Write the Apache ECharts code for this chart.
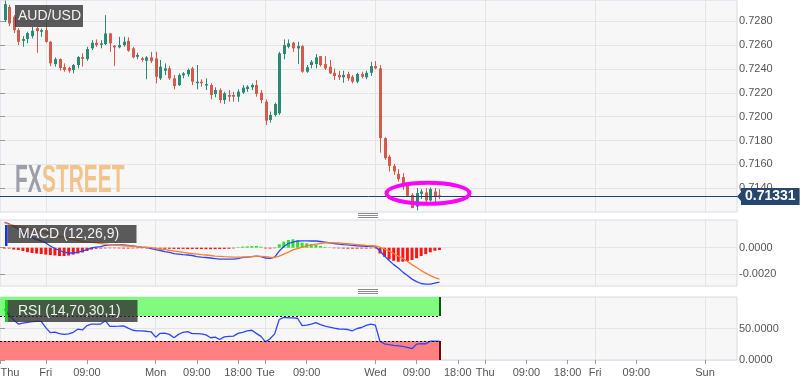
<!DOCTYPE html>
<html><head><meta charset="utf-8">
<script src="https://cdn.jsdelivr.net/npm/echarts@6/dist/echarts.min.js"></script>
<style>html,body{margin:0;padding:0;background:#fff}#c{width:808px;height:387px}</style>
</head><body><div id="c"></div>
<script>
const symbolName = 'AUD/USD';
const macdName = 'MACD (12,26,9)';
const rsiName = 'RSI (14,70,30,1)';
const firstSlot = 1;           // hour slot of the first candle
const totalSlots = 161;        // hour slots shown on the x axis
const opens = [0.72811,0.72922,0.72839,0.72727,0.72637,0.72652,0.72677,0.72744,0.72713,0.72727,
0.72629,0.72442,0.72484,0.72417,0.72409,0.72392,0.72434,0.72501,0.72484,0.72574,
0.72621,0.72604,0.72610,0.72699,0.72596,0.72582,0.72601,0.72637,0.72574,0.72503,
0.72490,0.72470,0.72498,0.72490,0.72322,0.72386,0.72406,0.72322,0.72265,0.72348,
0.72356,0.72406,0.72281,0.72294,0.72262,0.72266,0.72190,0.72224,0.72140,0.72182,
0.72182,0.72168,0.72202,0.72233,0.72247,0.72266,0.72202,0.72126,0.71973,0.72015,
0.72029,0.72526,0.72587,0.72621,0.72574,0.72593,0.72378,0.72434,0.72442,0.72509,
0.72442,0.72420,0.72369,0.72350,0.72331,0.72358,0.72336,0.72294,0.72358,0.72331,
0.72369,0.72425,0.72406,0.71820,0.71665,0.71587,0.71520,0.71493,0.71428,0.71344,
0.71246,0.71353,0.71364,0.71297,0.71372,0.71340];
const closes = [0.72945,0.72783,0.72727,0.72629,0.72652,0.72702,0.72721,0.72719,0.72727,0.72629,
0.72448,0.72484,0.72409,0.72392,0.72386,0.72434,0.72501,0.72487,0.72568,0.72621,
0.72601,0.72616,0.72699,0.72616,0.72582,0.72601,0.72629,0.72554,0.72498,0.72518,
0.72476,0.72498,0.72467,0.72336,0.72420,0.72406,0.72322,0.72258,0.72350,0.72364,
0.72392,0.72294,0.72294,0.72281,0.72275,0.72182,0.72224,0.72140,0.72197,0.72168,
0.72168,0.72210,0.72244,0.72252,0.72266,0.72191,0.72140,0.71967,0.72015,0.72107,
0.72532,0.72601,0.72616,0.72574,0.72593,0.72378,0.72415,0.72461,0.72498,0.72434,
0.72406,0.72364,0.72342,0.72331,0.72350,0.72322,0.72294,0.72358,0.72336,0.72369,
0.72425,0.72406,0.71820,0.71652,0.71587,0.71540,0.71476,0.71420,0.71336,0.71233,
0.71359,0.71372,0.71297,0.71392,0.71325,0.71331];
const lows = [0.72794,0.72760,0.72702,0.72601,0.72587,0.72616,0.72658,0.72537,0.72671,0.72621,
0.72425,0.72420,0.72386,0.72378,0.72369,0.72364,0.72406,0.72420,0.72470,0.72559,
0.72587,0.72574,0.72601,0.72545,0.72425,0.72574,0.72587,0.72545,0.72490,0.72482,
0.72461,0.72314,0.72451,0.72280,0.72308,0.72350,0.72308,0.72230,0.72258,0.72322,
0.72336,0.72265,0.72230,0.72252,0.72224,0.72146,0.72163,0.72113,0.72107,0.72126,
0.72126,0.72126,0.72191,0.72210,0.72224,0.72168,0.72113,0.71931,0.71950,0.72001,
0.72015,0.72482,0.72574,0.72545,0.72442,0.72369,0.72369,0.72406,0.72406,0.72420,
0.72392,0.72358,0.72308,0.72308,0.72285,0.72302,0.72280,0.72280,0.72322,0.72314,
0.72342,0.72398,0.71699,0.71638,0.71540,0.71512,0.71456,0.71386,0.71330,0.71233,
0.71213,0.71308,0.71280,0.71288,0.71280,0.71308];
const highs = [0.72975,0.72940,0.72853,0.72744,0.72677,0.72713,0.72755,0.72755,0.72741,0.72788,
0.72637,0.72498,0.72490,0.72448,0.72420,0.72442,0.72509,0.72532,0.72587,0.72643,
0.72649,0.72643,0.72853,0.72704,0.72601,0.72671,0.72671,0.72666,0.72587,0.72537,
0.72503,0.72509,0.72545,0.72545,0.72476,0.72448,0.72425,0.72350,0.72364,0.72375,
0.72406,0.72420,0.72434,0.72314,0.72322,0.72280,0.72247,0.72239,0.72210,0.72224,
0.72210,0.72230,0.72265,0.72265,0.72280,0.72308,0.72224,0.72146,0.72043,0.72118,
0.72545,0.72649,0.72649,0.72629,0.72629,0.72601,0.72434,0.72476,0.72526,0.72509,
0.72509,0.72476,0.72406,0.72386,0.72386,0.72378,0.72350,0.72369,0.72378,0.72386,
0.72461,0.72467,0.72434,0.71828,0.71680,0.71604,0.71560,0.71526,0.71437,0.71359,
0.71401,0.71392,0.71401,0.71406,0.71401,0.71392];
const macdLine = [0.00192,0.00180,0.00161,0.00142,0.00119,0.00097,0.00078,0.00062,0.00051,0.00036,
0.00013,-0.00006,-0.00021,-0.00033,-0.00040,-0.00040,-0.00033,-0.00025,-0.00014,-0.00002,
0.00005,0.00009,0.00017,0.00021,0.00021,0.00021,0.00021,0.00017,0.00013,0.00009,
0.00005,0.00002,-0.00006,-0.00014,-0.00021,-0.00029,-0.00036,-0.00044,-0.00048,-0.00052,
-0.00055,-0.00059,-0.00067,-0.00071,-0.00074,-0.00078,-0.00082,-0.00086,-0.00086,-0.00086,
-0.00086,-0.00082,-0.00074,-0.00071,-0.00067,-0.00063,-0.00067,-0.00078,-0.00081,-0.00071,
-0.00025,0.00009,0.00032,0.00043,0.00051,0.00052,0.00052,0.00051,0.00051,0.00047,
0.00042,0.00037,0.00032,0.00028,0.00024,0.00021,0.00017,0.00014,0.00013,0.00011,
0.00011,0.00008,-0.00025,-0.00063,-0.00097,-0.00128,-0.00154,-0.00185,-0.00211,-0.00238,
-0.00257,-0.00271,-0.00276,-0.00276,-0.00268,-0.00261];
const signalLine = [0.00192,0.00176,0.00169,0.00161,0.00154,0.00146,0.00138,0.00135,0.00127,0.00116,
0.00104,0.00093,0.00085,0.00078,0.00070,0.00062,0.00055,0.00047,0.00043,0.00040,
0.00036,0.00032,0.00028,0.00024,0.00021,0.00018,0.00015,0.00013,0.00011,0.00008,
0.00005,0.00003,0.00000,-0.00005,-0.00010,-0.00015,-0.00020,-0.00025,-0.00030,-0.00035,
-0.00040,-0.00044,-0.00048,-0.00052,-0.00055,-0.00059,-0.00063,-0.00065,-0.00068,-0.00069,
-0.00071,-0.00071,-0.00071,-0.00069,-0.00067,-0.00065,-0.00065,-0.00067,-0.00071,-0.00074,
-0.00063,-0.00048,-0.00033,-0.00017,-0.00006,0.00005,0.00013,0.00021,0.00027,0.00032,
0.00036,0.00037,0.00037,0.00036,0.00033,0.00030,0.00027,0.00024,0.00021,0.00017,
0.00015,0.00013,0.00005,-0.00010,-0.00025,-0.00044,-0.00063,-0.00082,-0.00105,-0.00128,
-0.00150,-0.00173,-0.00192,-0.00211,-0.00226,-0.00238];
const histogram = [-0.00006,-0.00006,-0.00014,-0.00017,-0.00025,-0.00033,-0.00040,-0.00044,-0.00048,-0.00052,
-0.00055,-0.00059,-0.00063,-0.00063,-0.00059,-0.00052,-0.00044,-0.00036,-0.00025,-0.00014,
-0.00008,-0.00006,-0.00005,-0.00004,-0.00004,-0.00005,-0.00006,-0.00006,-0.00005,-0.00004,
-0.00004,-0.00005,-0.00006,-0.00007,-0.00008,-0.00008,-0.00008,-0.00009,-0.00009,-0.00009,
-0.00010,-0.00010,-0.00010,-0.00010,-0.00011,-0.00011,-0.00011,-0.00010,-0.00009,-0.00008,
-0.00005,0.00004,0.00008,0.00010,0.00012,0.00013,0.00008,-0.00005,-0.00006,-0.00004,
0.00026,0.00046,0.00059,0.00064,0.00053,0.00038,0.00033,0.00028,0.00021,0.00013,
0.00006,0.00002,-0.00004,-0.00005,-0.00006,-0.00007,-0.00007,-0.00007,-0.00006,-0.00006,
-0.00005,-0.00005,-0.00043,-0.00068,-0.00088,-0.00099,-0.00106,-0.00106,-0.00101,-0.00093,
-0.00080,-0.00063,-0.00048,-0.00035,-0.00023,-0.00017];
const rsiValues = [80.3,71.7,63.5,57,58.6,59.8,61,61.4,61.4,51.3,
43.5,44.3,41.9,40.7,41.5,44,48.9,47.7,54.6,57,
57,57,62.4,53.3,53.3,53.7,54.2,50.5,47.2,46.1,
46.1,45.6,44.8,36.3,42.3,42.8,40.7,35.3,40.7,44,
45.1,41.9,41.9,41.5,39.9,35.3,36.3,32.6,36.6,37.5,
37.9,42.3,44,46.1,47.2,42.3,37.5,28.8,33.7,41.5,
64.3,67.6,67.1,66.8,66.3,54.6,55.4,57,59.4,56.2,
53.7,52.1,50.5,49.2,48.9,48.4,46.4,50,51.6,55,
57,55.4,29.8,25.7,24.4,23.3,22.5,21.7,19.9,17.9,
25.2,26.1,25.6,29.8,29.8,29.8];
const tickSlots = [0,10,19,34,43,52,58,67,82,91,100,106,115,124,130,139,154];
const tickLabels = ['Thu','Fri','09:00','Mon','09:00','18:00','Tue','09:00','Wed','09:00','18:00','Thu','09:00','18:00','Fri','09:00','Sun'];
const daySlots = [10,34,58,82,106,130,154];
const priceTicks = [0.714,0.716,0.718,0.720,0.722,0.724,0.726,0.728];
const macdTicks = [0,-0.002];
const rsiTicks = [0,50];
const rsiUpper = 70, rsiLower = 30;
const lastPrice = 0.71331;
const highlightSlot = 93.5, highlightPrice = 0.71357;

const FONT = '"Liberation Sans", Arial, sans-serif';
const UP = '#2b8a73', DOWN = '#d55a4c';
const GRIDC = '#e4e4e4';
const slots = opens.map((_, k) => firstSlot + k);
const lastSlot = slots[slots.length - 1];

const chart = echarts.init(document.getElementById('c'), null, {renderer: 'canvas', width: 808, height: 387});

function renderCandle(params, api) {
  const x = api.value(0), o = api.value(1), c = api.value(2), l = api.value(3), h = api.value(4);
  const po = api.coord([x, o]), pc = api.coord([x, c]), pl = api.coord([x, l]), ph = api.coord([x, h]);
  const cx = Math.round(po[0]);
  const col = c >= o ? UP : DOWN;
  const top = Math.min(po[1], pc[1]);
  const hgt = Math.max(Math.abs(po[1] - pc[1]), 1.2);
  return {type: 'group', children: [
    {type: 'line', shape: {x1: cx + 0.5, y1: ph[1], x2: cx + 0.5, y2: pl[1]}, style: {stroke: col, lineWidth: 1}},
    {type: 'rect', shape: {x: cx - 1, y: top, width: 3, height: hgt}, style: {fill: col}}
  ]};
}

const gridBase = {left: 0, width: 737, show: true, backgroundColor: '#f7f7f7', borderColor: '#d6d9e8', borderWidth: 1, containLabel: false, outerBoundsMode: 'none'};
function splitXAxis(gi) {
  return {type: 'value', gridIndex: gi, position: 'top', min: 0, max: totalSlots,
    axisLine: {show: false}, axisLabel: {show: false},
    axisTick: {show: false, customValues: daySlots},
    splitLine: {show: true, lineStyle: {color: GRIDC, width: 1}}};
}
function yAx(gi, min, max, ticks) {
  return {type: 'value', gridIndex: gi, position: 'right', min: min, max: max,
    axisLine: {show: false},
    axisTick: {show: true, length: 5, customValues: ticks, lineStyle: {color: '#9a9a9a'}},
    axisLabel: {show: true, customValues: ticks, margin: 2, color: '#555', fontSize: 11, fontFamily: FONT,
      formatter: v => (Math.abs(v) < 1e-12 ? 0 : v).toFixed(4)},
    splitLine: {show: true, lineStyle: {color: GRIDC, width: 1}}};
}

const option = {
  animation: false,
  backgroundColor: '#ffffff',
  textStyle: {fontFamily: FONT},
  grid: [
    Object.assign({}, gridBase, {top: 0, height: 212}),
    Object.assign({}, gridBase, {top: 220, height: 66}),
    Object.assign({}, gridBase, {top: 297, height: 63})
  ],
  xAxis: [
    splitXAxis(0), splitXAxis(1), splitXAxis(2),
    {type: 'value', gridIndex: 2, position: 'bottom', min: 0, max: totalSlots,
      axisLine: {show: false},
      axisTick: {show: true, length: 4, customValues: tickSlots, lineStyle: {color: '#9a9a9a'}},
      axisLabel: {show: true, customValues: tickSlots, margin: 7, color: '#555', fontSize: 11, fontFamily: FONT,
        formatter: v => { const k = tickSlots.indexOf(Math.round(v)); if (k < 0) return ''; return k === 0 ? '{first|' + tickLabels[k] + '}' : tickLabels[k]; },
        rich: {first: {padding: [0, 0, 0, 20], color: '#555', fontSize: 11, fontFamily: FONT}}},
      splitLine: {show: false}}
  ],
  yAxis: [
    yAx(0, 0.712, 0.7298, priceTicks),
    yAx(1, -0.0029, 0.0021, macdTicks),
    yAx(2, 0, 100, rsiTicks)
  ],
  series: [
    {type: 'custom', name: symbolName, xAxisIndex: 0, yAxisIndex: 0, clip: true,
      renderItem: renderCandle, encode: {x: 0, y: [1, 2, 3, 4]},
      data: slots.map((s, k) => [s, opens[k], closes[k], lows[k], highs[k]])},
    {type: 'line', name: 'last', xAxisIndex: 0, yAxisIndex: 0, showSymbol: false, silent: true, z: 4,
      lineStyle: {color: '#22416a', width: 0}, itemStyle: {color: '#22416a'},
      data: slots.map((s, k) => [s, closes[k]]),
      markLine: {silent: true, symbol: ['none', 'none'], animation: false,
        data: [[
          {coord: [0, lastPrice], lineStyle: {color: '#22416a', width: 1, type: 'solid', opacity: 1},
           label: {show: true, position: 'end', distance: 4, formatter: () => lastPrice.toFixed(5),
             backgroundColor: '#27466d', color: '#fff', fontWeight: 'bold', fontSize: 14, fontFamily: FONT, padding: [2, 4, 1, 4]}},
          {coord: [totalSlots, lastPrice]}
        ]]}},
    {type: 'bar', name: 'hist', xAxisIndex: 1, yAxisIndex: 1, barWidth: 3,
      data: slots.map((s, k) => [s, histogram[k]]),
      itemStyle: {color: p => p.value[1] >= 0 ? '#2ee02e' : '#ff1414'}},
    {type: 'line', name: 'MACD', xAxisIndex: 1, yAxisIndex: 1, showSymbol: false, z: 3,
      data: slots.map((s, k) => [s, macdLine[k]]), lineStyle: {color: '#2a46ff', width: 1.3}},
    {type: 'line', name: 'Signal', xAxisIndex: 1, yAxisIndex: 1, showSymbol: false, z: 3,
      data: slots.map((s, k) => [s, signalLine[k]]), lineStyle: {color: '#ff7f2a', width: 1.3}},
    {type: 'line', name: 'RSI', xAxisIndex: 2, yAxisIndex: 2, showSymbol: false, z: 3,
      data: slots.map((s, k) => [s, rsiValues[k]]), lineStyle: {color: '#2a46ff', width: 1.3},
      markArea: {silent: true, data: [
        [{xAxis: 0, yAxis: rsiUpper, itemStyle: {color: '#80fb80', opacity: 1}}, {xAxis: lastSlot, yAxis: 100}],
        [{xAxis: 0, yAxis: 0, itemStyle: {color: '#ff8080', opacity: 1}}, {xAxis: lastSlot, yAxis: rsiLower}]
      ]},
      markLine: {silent: true, symbol: ['none', 'none'], label: {show: false}, data: [
        [{coord: [0, rsiUpper], lineStyle: {color: '#000', width: 1, type: [2, 2]}}, {coord: [lastSlot, rsiUpper]}],
        [{coord: [0, rsiLower], lineStyle: {color: '#000', width: 1, type: [2, 2]}}, {coord: [lastSlot, rsiLower]}],
        [{coord: [lastSlot, rsiUpper], lineStyle: {color: '#0a5a0a', width: 2, type: 'solid'}}, {coord: [lastSlot, 100]}],
        [{coord: [lastSlot, 0], lineStyle: {color: '#6a0a0a', width: 2, type: 'solid'}}, {coord: [lastSlot, rsiLower]}]
      ]}}
  ]
};
chart.setOption(option);

// annotations positioned through the chart's own scales
const pc = chart.convertToPixel({gridIndex: 0}, [highlightSlot, highlightPrice]);
const pp = chart.convertToPixel({gridIndex: 0}, [totalSlots, lastPrice]);
const BOX = 'rgba(50,50,50,0.8)';
function grip(y) {
  return [0, 2, 4].map(d => ({type: 'rect', shape: {x: 358, y: y + d, width: 20, height: 1}, style: {fill: '#8c8c8c'}, z: 50}));
}
chart.setOption({graphic: [
  {type: 'text', left: 15, top: 163, z: 1, scaleX: 0.55, style: {text: 'FX', fill: '#9c9fa8', font: 'bold 38px ' + FONT}},
  {type: 'text', left: 42, top: 163, z: 1, scaleX: 0.55, style: {text: 'STREET', fill: '#f3c38c', font: 'bold 38px ' + FONT}},
  {type: 'rect', shape: {x: 15, y: 5, width: 68, height: 22}, style: {fill: BOX}, z: 60},
  {type: 'text', x: 18, y: 16, z: 61, style: {text: symbolName, fill: '#f2f2f2', font: '14px ' + FONT, verticalAlign: 'middle'}},
  {type: 'rect', shape: {x: 5, y: 225, width: 2.5, height: 21}, style: {fill: '#1030ff'}, z: 60},
  {type: 'rect', shape: {x: 7.5, y: 225, width: 129, height: 18}, style: {fill: BOX}, z: 60},
  {type: 'text', x: 18, y: 234.5, z: 61, style: {text: macdName, fill: '#f2f2f2', font: '14px ' + FONT, verticalAlign: 'middle'}},
  {type: 'rect', shape: {x: 5, y: 300, width: 2.5, height: 22}, style: {fill: '#00e000'}, z: 60},
  {type: 'rect', shape: {x: 7.5, y: 300, width: 130, height: 22}, style: {fill: BOX}, z: 60},
  {type: 'text', x: 18, y: 311.5, z: 61, style: {text: rsiName, fill: '#f2f2f2', font: '14px ' + FONT, verticalAlign: 'middle'}},
  {type: 'ellipse', shape: {cx: pc[0], cy: pc[1], rx: 41.5, ry: 10.5}, style: {fill: 'none', stroke: '#ff00ff', lineWidth: 4}, z: 70},
  {type: 'polygon', shape: {points: [[pp[0], pp[1]], [pp[0] + 4.5, pp[1] - 5], [pp[0] + 4.5, pp[1] + 5]]}, style: {fill: '#27466d'}, z: 70}
].concat(grip(213), grip(289))});
</script></body></html>
